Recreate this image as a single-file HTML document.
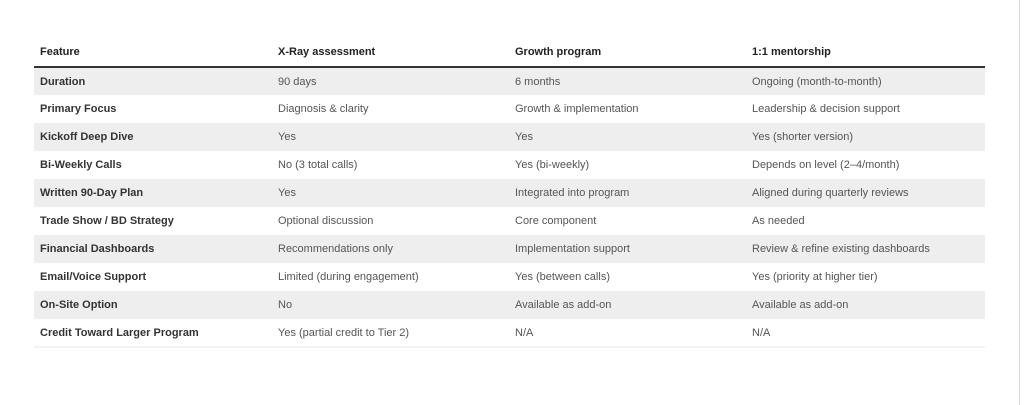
<!DOCTYPE html>
<html><head><style>
body{margin:0;width:1024px;height:405px;background:#fff;font-family:"Liberation Sans",Arial,sans-serif;position:relative;overflow:hidden}
table{position:absolute;left:34px;top:37px;width:951px;border-collapse:collapse;font-size:11px}
th{text-align:left;font-weight:600;color:#222;height:29px;padding:0 0 0 6px;border-bottom:2px solid #333}
td{height:28px;padding:0 0 0 6px;color:#555;box-sizing:border-box}
td:first-child{font-weight:bold;color:#333}
tr:nth-child(odd) td{background:#eee}
tbody tr:last-child td{border-bottom:2px solid #f2f2f2}
.sb{position:absolute;left:1019px;top:0;width:1px;height:405px;background:#ddd}
</style></head><body>
<table>
<colgroup><col style="width:238px"><col style="width:237px"><col style="width:237px"><col></colgroup>
<thead><tr><th>Feature</th><th>X-Ray assessment</th><th>Growth program</th><th>1:1 mentorship</th></tr></thead>
<tbody>
<tr><td>Duration</td><td>90 days</td><td>6 months</td><td>Ongoing (month-to-month)</td></tr>
<tr><td>Primary Focus</td><td>Diagnosis &amp; clarity</td><td>Growth &amp; implementation</td><td>Leadership &amp; decision support</td></tr>
<tr><td>Kickoff Deep Dive</td><td>Yes</td><td>Yes</td><td>Yes (shorter version)</td></tr>
<tr><td>Bi-Weekly Calls</td><td>No (3 total calls)</td><td>Yes (bi-weekly)</td><td>Depends on level (2–4/month)</td></tr>
<tr><td>Written 90-Day Plan</td><td>Yes</td><td>Integrated into program</td><td>Aligned during quarterly reviews</td></tr>
<tr><td>Trade Show / BD Strategy</td><td>Optional discussion</td><td>Core component</td><td>As needed</td></tr>
<tr><td>Financial Dashboards</td><td>Recommendations only</td><td>Implementation support</td><td>Review &amp; refine existing dashboards</td></tr>
<tr><td>Email/Voice Support</td><td>Limited (during engagement)</td><td>Yes (between calls)</td><td>Yes (priority at higher tier)</td></tr>
<tr><td>On-Site Option</td><td>No</td><td>Available as add-on</td><td>Available as add-on</td></tr>
<tr><td>Credit Toward Larger Program</td><td>Yes (partial credit to Tier 2)</td><td>N/A</td><td>N/A</td></tr>
</tbody></table>
<div class="sb"></div>
</body></html>
